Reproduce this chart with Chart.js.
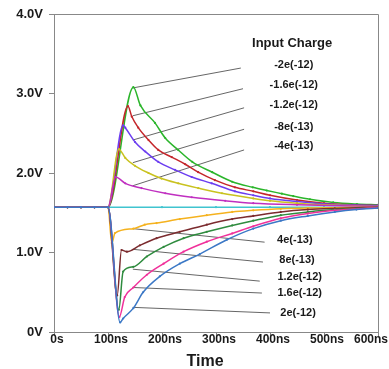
<!DOCTYPE html>
<html>
<head>
<meta charset="utf-8">
<script src="https://cdn.jsdelivr.net/npm/chart.js@4.4.1/dist/chart.umd.min.js"></script>
<style>
  body { margin: 0; background: #fff; }
  canvas { display: block; }
</style>
</head>
<body>
<canvas id="pulseChart" width="389" height="369"></canvas>
<script>
// time axis ticks (ns) and voltage ticks
const timeTicks = [0, 100, 200, 300, 400, 500, 600];
const voltTicks = [0, 1, 2, 3, 4];

// curves: t in ns, v in volts
const flatT = [0, 25, 50, 75];
const flatV = [1.57, 1.57, 1.57, 1.57];

const tNeg20 = [100, 147, 160, 187, 206, 230, 256, 293, 330, 368, 394, 422, 443, 474, 517, 561, 600];
const vNeg20 = [1.57, 3.08, 2.85, 2.63, 2.44, 2.29, 2.14, 2.01, 1.89, 1.82, 1.78, 1.74, 1.71, 1.67, 1.63, 1.61, 1.60];

const tNeg16 = [100, 137, 144, 156, 175, 193, 218, 243, 267, 298, 335, 369, 400, 450, 500, 550, 600];
const vNeg16 = [1.57, 2.84, 2.71, 2.57, 2.415, 2.29, 2.20, 2.11, 2.01, 1.91, 1.82, 1.77, 1.72, 1.66, 1.62, 1.60, 1.59];

const tNeg12 = [100, 128, 132, 150, 169, 193, 224, 255, 292, 335, 369, 400, 450, 500, 600];
const vNeg12 = [1.57, 2.60, 2.57, 2.39, 2.27, 2.14, 2.04, 1.95, 1.87, 1.77, 1.72, 1.68, 1.64, 1.61, 1.59];

const tNeg8 = [100, 120, 132, 150, 175, 199, 230, 267, 311, 369, 400, 450, 500, 600];
const vNeg8 = [1.57, 2.30, 2.19, 2.09, 2.00, 1.93, 1.87, 1.81, 1.745, 1.68, 1.65, 1.62, 1.60, 1.58];

const tNeg4 = [100, 114, 132, 162, 206, 255, 317, 369, 450, 600];
const vNeg4 = [1.57, 1.95, 1.87, 1.81, 1.745, 1.695, 1.65, 1.62, 1.60, 1.58];

const tZero = [100, 200, 300, 400, 500, 600];
const vZero = [1.57, 1.57, 1.57, 1.57, 1.57, 1.57];

const tPos4 = [100, 107, 113, 147, 168, 190, 233, 283, 330, 369, 420, 470, 600];
const vPos4 = [1.57, 1.12, 1.245, 1.30, 1.35, 1.37, 1.42, 1.47, 1.51, 1.53, 1.55, 1.56, 1.57];

const tPos8 = [100, 117, 125, 135, 159, 190, 233, 283, 330, 369, 420, 470, 520, 600];
const vPos8 = [1.57, 0.46, 1.03, 1.01, 1.09, 1.18, 1.26, 1.35, 1.42, 1.46, 1.51, 1.54, 1.555, 1.57];

const tPos12 = [100, 120, 128, 147, 172, 203, 240, 283, 330, 369, 420, 470, 520, 600];
const vPos12 = [1.57, 0.28, 0.76, 0.82, 0.95, 1.07, 1.18, 1.26, 1.34, 1.40, 1.47, 1.51, 1.54, 1.565];

const tPos16 = [100, 121, 131, 147, 172, 203, 240, 283, 330, 369, 420, 470, 520, 600];
const vPos16 = [1.57, 0.19, 0.44, 0.56, 0.72, 0.86, 1.01, 1.136, 1.24, 1.33, 1.43, 1.49, 1.53, 1.565];

const tPos20 = [100, 122.5, 128, 147, 165, 196, 233, 270, 320, 369, 420, 470, 520, 560, 600];
const vPos20 = [1.57, 0.12, 0.17, 0.30, 0.50, 0.70, 0.86, 0.98, 1.16, 1.30, 1.40, 1.46, 1.51, 1.54, 1.56];

// legend text
const legendTitle = 'Input Charge';
const upperNames = ['-2e(-12)', '-1.6e(-12)', '-1.2e(-12)', '-8e(-13)', '-4e(-13)'];
const lowerNames = ['4e(-13)', '8e(-13)', '1.2e(-12)', '1.6e(-12)', '2e(-12)'];

// leader lines (data units)
const leadStartT = 146;
const upperStartV = [3.07, 2.72, 2.415, 2.13, 1.84];
const upperEndT = [346, 350, 352, 352, 352];
const upperEndV = [3.32, 3.06, 2.82, 2.55, 2.29];
const lowerStartV = [1.30, 1.04, 0.79, 0.56, 0.31];
const lowerEndT = [390, 387, 381, 385, 400];
const lowerEndV = [1.13, 0.88, 0.64, 0.49, 0.24];

// where label text sits (data units)
const titleAt = [441, 3.635];
const upperLabelT = [444, 444, 444, 444, 444];
const upperLabelV = [3.36, 3.11, 2.855, 2.58, 2.34];
const lowerLabelT = [446, 450, 455, 455, 452];
const lowerLabelV = [1.157, 0.906, 0.69, 0.49, 0.24];

const FONT = '"Liberation Sans", Arial, Helvetica, sans-serif';

function pts(ts, vs, withFlat) {
    const out = [];
    if (withFlat) flatT.forEach((t, i) => out.push({ x: t, y: flatV[i] }));
    ts.forEach((t, i) => out.push({ x: t, y: vs[i] }));
    return out;
}

function curve(ts, vs, color) {
    return {
        data: pts(ts, vs, true),
        borderColor: color,
        backgroundColor: color,
        borderWidth: 1.5,
        pointRadius: 1.1,
        pointBorderWidth: 0,
        cubicInterpolationMode: 'monotone',
        fill: false
    };
}

function leader(t0, v0, t1, v1) {
    return {
        data: [{ x: t0, y: v0 }, { x: t1, y: v1 }],
        borderColor: '#555',
        borderWidth: 0.9,
        pointRadius: 0,
        fill: false
    };
}

// first dataset ends up on top
const datasets = [
    curve(tPos20, vPos20, '#3b78c6'),
    curve(tPos16, vPos16, '#f0309a'),
    curve(tPos12, vPos12, '#2e8b3e'),
    curve(tPos8, vPos8, '#7b2b2e'),
    curve(tPos4, vPos4, '#f5b21e'),
    curve(tNeg4, vNeg4, '#c02fc0'),
    curve(tNeg8, vNeg8, '#c9c21f'),
    curve(tNeg12, vNeg12, '#6b3df0'),
    curve(tNeg16, vNeg16, '#c4262b'),
    curve(tNeg20, vNeg20, '#2bb52b'),
    curve(tZero, vZero, '#40c4cf')
];
for (let i = 0; i < 5; i++) {
    datasets.push(leader(leadStartT, upperStartV[i], upperEndT[i], upperEndV[i]));
    datasets.push(leader(leadStartT, lowerStartV[i], lowerEndT[i], lowerEndV[i]));
}

// frame, annotation text, time labels
const Decorations = {
    id: 'decorations',
    afterDatasetsDraw(chart) {
        const { ctx, chartArea: a, scales: { x, y } } = chart;
        ctx.save();
        ctx.strokeStyle = '#888';
        ctx.lineWidth = 1;
        ctx.beginPath();
        ctx.moveTo(a.left, a.top + 0.5);
        ctx.lineTo(a.right + 0.5, a.top + 0.5);
        ctx.lineTo(a.right + 0.5, a.bottom);
        ctx.stroke();

        ctx.fillStyle = '#1a1a1a';
        ctx.textAlign = 'center';
        ctx.textBaseline = 'middle';
        ctx.font = 'bold 13px ' + FONT;
        ctx.fillText(legendTitle, x.getPixelForValue(titleAt[0]), y.getPixelForValue(titleAt[1]));

        ctx.font = 'bold 11px ' + FONT;
        upperNames.forEach((n, i) => {
            ctx.fillText(n, x.getPixelForValue(upperLabelT[i]), y.getPixelForValue(upperLabelV[i]));
        });
        lowerNames.forEach((n, i) => {
            ctx.fillText(n, x.getPixelForValue(lowerLabelT[i]), y.getPixelForValue(lowerLabelV[i]));
        });

        // time tick labels, last one kept inside the canvas
        ctx.font = 'bold 12px ' + FONT;
        const W = chart.width;
        timeTicks.forEach(t => {
            const txt = t === 0 ? '0s' : t + 'ns';
            const w = ctx.measureText(txt).width;
            let cx = x.getPixelForValue(t) + 3;
            if (cx + w / 2 > W - 1) cx = W - 1 - w / 2;
            ctx.fillText(txt, cx, a.bottom + 8);
        });

        ctx.font = 'bold 16px ' + FONT;
        ctx.fillText('Time', 205, a.bottom + 30);
        ctx.restore();
    }
};

new Chart(document.getElementById('pulseChart'), {
    type: 'line',
    data: { datasets },
    options: {
        responsive: false,
        animation: false,
        events: [],
        layout: { padding: { top: 14, right: 11, left: 0, bottom: 0 }, autoPadding: false },
        plugins: {
            legend: { display: false },
            tooltip: { enabled: false }
        },
        scales: {
            x: {
                type: 'linear',
                min: 0,
                max: 600,
                afterBuildTicks: s => { s.ticks = timeTicks.map(v => ({ value: v })); },
                afterFit: s => { s.height = 37; },
                ticks: { display: false },
                grid: { drawOnChartArea: false, drawTicks: true, tickLength: 4, color: '#888' },
                border: { color: '#888', width: 1 }
            },
            y: {
                type: 'linear',
                min: 0,
                max: 4,
                afterBuildTicks: s => { s.ticks = voltTicks.map(v => ({ value: v })); },
                afterFit: s => { s.width = 54; },
                ticks: {
                    color: '#1a1a1a',
                    padding: 6,
                    font: { family: FONT, size: 13, weight: 'bold' },
                    callback: v => v === 0 ? '0V' : v.toFixed(1) + 'V'
                },
                grid: { drawOnChartArea: false, drawTicks: true, tickLength: 5, color: '#888' },
                border: { color: '#888', width: 1 }
            }
        }
    },
    plugins: [Decorations]
});
</script>
</body>
</html>
